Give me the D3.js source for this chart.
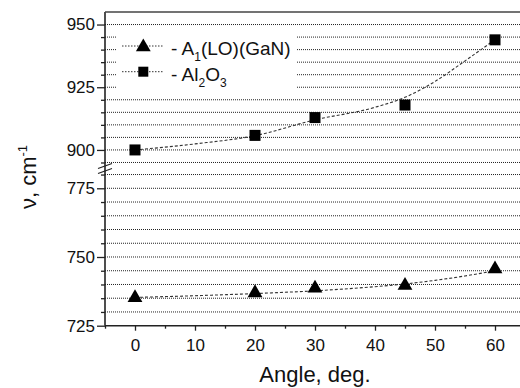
<!DOCTYPE html>
<html>
<head>
<meta charset="utf-8">
<script src="https://cdn.jsdelivr.net/npm/d3@7/dist/d3.min.js"></script>
<style>
  body { margin: 0; background: #fff; }
  svg { display: block; font-family: "Liberation Sans", Arial, sans-serif; }
</style>
</head>
<body>
<div id="chart"></div>
<script>
// data
const angles = [0, 20, 30, 45, 60];
const ganValues = [735.5, 737.3, 739.0, 740.0, 746.0];
const alValues = [900.0, 905.8, 912.9, 917.9, 943.9];

// fitted curves (dashed)
const fitAngles = [0, 10, 20, 30, 40, 45, 50, 55, 60];
const ganFit = [735.3, 735.9, 736.7, 737.7, 739.2, 740.2, 741.5, 743.1, 745.0];
const alFit = [900.0, 902.4, 905.7, 912.0, 917.0, 921.0, 927.3, 935.5, 944.0];

const xTicks = [0, 10, 20, 30, 40, 50, 60];
const xMinor = [-5, 5, 15, 25, 35, 45, 55, 65];
const upperTicks = [900, 925, 950];
const lowerTicks = [725, 750, 775];
const upperMinor = [895, 905, 910, 915, 920, 930, 935, 940, 945];
const lowerMinor = [730, 735, 740, 745, 755, 760, 765, 770, 780];
const upperRange = [892.6, 955];
const lowerRange = [725, 782.2];

const W = 520, H = 388;
const pLeft = 105, pRight = 525, pTop = 12, pBottom = 325.7, breakY = 168.5;

const svg = d3.select("#chart").append("svg")
    .attr("width", W)
    .attr("height", H);

const x = d3.scaleLinear().domain([-5, 65]).range([pLeft, pRight]);
const yTop = d3.scaleLinear().domain(upperRange).range([breakY, pTop]);
const yBot = d3.scaleLinear().domain(lowerRange).range([pBottom, breakY]);
function y(v) { return v > 850 ? yTop(v) : yBot(v); }

// gridlines every 5 units
const gridVals = upperMinor.concat(upperTicks, lowerMinor, lowerTicks.slice(1));
svg.append("g").selectAll("line")
    .data(gridVals)
    .join("line")
    .attr("x1", pLeft).attr("x2", pRight)
    .attr("y1", d => y(d)).attr("y2", d => y(d))
    .attr("stroke", "#222")
    .attr("stroke-width", 1)
    .attr("stroke-dasharray", "1,1");

// legend background hides the grid
svg.append("rect")
    .attr("x", 117).attr("y", 30)
    .attr("width", 179).attr("height", 63)
    .attr("fill", "#fff");

// axes
function styleAxis(g) {
    g.select(".domain").remove();
    g.selectAll("line").attr("stroke", "#222").attr("stroke-width", 1.3);
    g.selectAll("text").attr("font-size", 17).attr("fill", "#111")
        .attr("font-family", "Liberation Sans, Arial, sans-serif");
}

svg.append("g").attr("transform", `translate(${pLeft},0)`)
    .call(d3.axisLeft(yTop).tickValues(upperTicks).tickSize(8).tickPadding(2).tickFormat(d3.format("d")))
    .call(styleAxis);
svg.append("g").attr("transform", `translate(${pLeft},0)`)
    .call(d3.axisLeft(yBot).tickValues(lowerTicks).tickSize(8).tickPadding(2).tickFormat(d3.format("d")))
    .call(styleAxis);
svg.append("g").attr("transform", `translate(${pLeft},0)`)
    .call(d3.axisLeft(yTop).tickValues(upperMinor).tickSize(4).tickFormat(""))
    .call(styleAxis);
svg.append("g").attr("transform", `translate(${pLeft},0)`)
    .call(d3.axisLeft(yBot).tickValues(lowerMinor).tickSize(4).tickFormat(""))
    .call(styleAxis);

svg.append("g").attr("transform", `translate(0,${pBottom})`)
    .call(d3.axisBottom(x).tickValues(xTicks).tickSize(5).tickPadding(8))
    .call(styleAxis);
svg.append("g").attr("transform", `translate(0,${pBottom})`)
    .call(d3.axisBottom(x).tickValues(xMinor).tickSize(3).tickFormat(""))
    .call(styleAxis);

// frame
svg.append("line").attr("x1", pLeft).attr("x2", pLeft).attr("y1", pTop).attr("y2", pBottom)
    .attr("stroke", "#222").attr("stroke-width", 1.6);
svg.append("line").attr("x1", pLeft).attr("x2", pRight).attr("y1", pBottom).attr("y2", pBottom)
    .attr("stroke", "#222").attr("stroke-width", 1.6);
svg.append("line").attr("x1", pLeft).attr("x2", pRight).attr("y1", pTop).attr("y2", pTop)
    .attr("stroke", "#444").attr("stroke-width", 1.6);

// axis break marks
[-2.5, 2.5].forEach(function(o) {
    svg.append("line")
        .attr("x1", pLeft - 7).attr("x2", pLeft + 7)
        .attr("y1", breakY + o + 2.5).attr("y2", breakY + o - 2.5)
        .attr("stroke", "#222").attr("stroke-width", 1.2);
});

// fitted curves
const fitLine = d3.line()
    .x(d => x(d[0]))
    .y(d => y(d[1]))
    .curve(d3.curveMonotoneX);

[alFit, ganFit].forEach(function(vals) {
    svg.append("path")
        .attr("d", fitLine(fitAngles.map((a, i) => [a, vals[i]])))
        .attr("fill", "none")
        .attr("stroke", "#333")
        .attr("stroke-width", 1.1)
        .attr("stroke-dasharray", "3,2");
});

// markers
const tri = d3.symbol().type(d3.symbolTriangle).size(95);
svg.append("g").selectAll("path")
    .data(angles)
    .join("path")
    .attr("d", tri)
    .attr("transform", (d, i) => `translate(${x(d)},${yBot(ganValues[i]) + 1})`)
    .attr("fill", "#000");

svg.append("g").selectAll("rect")
    .data(angles)
    .join("rect")
    .attr("x", d => x(d) - 5.5)
    .attr("y", (d, i) => yTop(alValues[i]) - 5.5)
    .attr("width", 11).attr("height", 11)
    .attr("fill", "#000");

// legend
const legend = svg.append("g");
[46, 71.7].forEach(function(ly) {
    legend.append("line")
        .attr("x1", 122).attr("x2", 163)
        .attr("y1", ly).attr("y2", ly)
        .attr("stroke", "#333")
        .attr("stroke-dasharray", "1.5,1.5");
});
legend.append("path").attr("d", tri).attr("transform", "translate(143.3,47)").attr("fill", "#000");
legend.append("rect").attr("x", 138.3).attr("y", 66.7).attr("width", 10).attr("height", 10).attr("fill", "#000");

const t1 = legend.append("text").attr("x", 171).attr("y", 55).attr("font-size", 19).attr("fill", "#111");
t1.append("tspan").text("- A");
t1.append("tspan").attr("font-size", 12).attr("dy", 6).text("1");
t1.append("tspan").attr("dy", -6).text("(LO)(GaN)");

const t2 = legend.append("text").attr("x", 171).attr("y", 81).attr("font-size", 19).attr("fill", "#111");
t2.append("tspan").text("- Al");
t2.append("tspan").attr("font-size", 12).attr("dy", 6).text("2");
t2.append("tspan").attr("dy", -6).text("O");
t2.append("tspan").attr("font-size", 12).attr("dy", 6).text("3");

// axis titles
svg.append("text")
    .attr("x", 315).attr("y", 382)
    .attr("text-anchor", "middle")
    .attr("font-size", 22)
    .attr("fill", "#111")
    .text("Angle, deg.");

const yt = svg.append("text")
    .attr("transform", "translate(36,177) rotate(-90)")
    .attr("text-anchor", "middle")
    .attr("font-size", 22)
    .attr("fill", "#111");
yt.append("tspan").text("ν, cm");
yt.append("tspan").attr("font-size", 13).attr("dy", -9).text("-1");
</script>
</body>
</html>
